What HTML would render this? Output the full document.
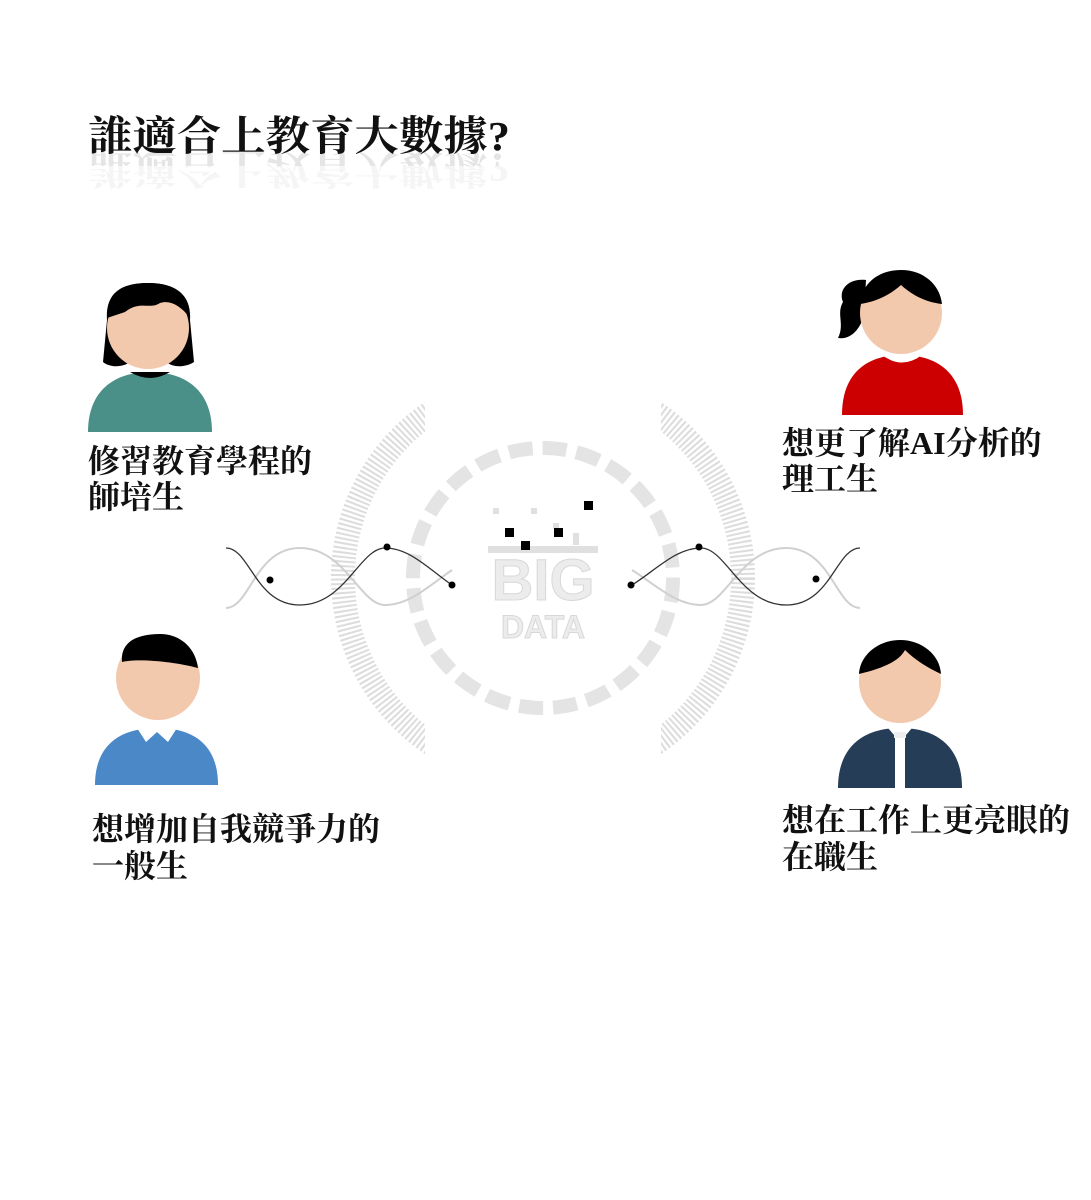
<!DOCTYPE html>
<html><head><meta charset="utf-8"><style>
html,body{margin:0;padding:0;background:#fff;}
svg{display:block;}
.t{font-family:"Liberation Serif","Noto Serif CJK SC",serif;font-weight:bold;fill:#111;}
</style></head><body>
<svg width="1091" height="1200" viewBox="0 0 1091 1200" xmlns="http://www.w3.org/2000/svg">
<!-- title -->
<text class="t" x="88" y="150" font-size="41" textLength="422" lengthAdjust="spacingAndGlyphs">誰適合上教育大數據?</text>
<g transform="translate(0,304) scale(1,-1)" opacity="0.1">
<text class="t" x="88" y="150" font-size="41" textLength="422" lengthAdjust="spacingAndGlyphs">誰適合上教育大數據?</text>
</g>
<rect x="85" y="166" width="430" height="25" fill="#fff" opacity="0.6"/>

<!-- big data graphic -->
<g transform="translate(543,578)">
  <circle r="200" fill="none" stroke="#dcdcdc" stroke-width="24" stroke-dasharray="2 2.5" />
  <rect x="-118" y="-215" width="236" height="430" fill="#fff"/>
  <circle r="130" fill="none" stroke="#e4e4e4" stroke-width="14" stroke-dasharray="24 10"/>
  <text x="0" y="22" text-anchor="middle" font-family="Liberation Sans,sans-serif" font-weight="bold" font-size="58" fill="#ececec" stroke="#d8d8d8" stroke-width="1">BIG</text>
  <text x="0" y="60" text-anchor="middle" font-family="Liberation Sans,sans-serif" font-weight="bold" font-size="32" fill="#ececec" stroke="#d8d8d8" stroke-width="1">DATA</text>
  <g fill="#e0e0e0">
    <rect x="-55" y="-32" width="110" height="7"/>
    <rect x="-50" y="-70" width="6" height="6"/><rect x="-12" y="-70" width="6" height="6"/><rect x="10" y="-55" width="6" height="6"/><rect x="30" y="-45" width="6" height="12"/>
  </g>
  <g fill="#000">
    <rect x="-38" y="-50" width="9" height="9"/><rect x="-22" y="-37" width="9" height="9"/>
    <rect x="11" y="-50" width="9" height="9"/><rect x="41" y="-77" width="9" height="9"/>
  </g>
</g>
<!-- waves -->
<g fill="none">
  <path d="M226,608 C250,608 255,548 300,548 C345,548 360,605 385,605 C410,605 430,585 452,570" stroke="#d0d0d0" stroke-width="2"/>
  <path d="M226,548 C250,548 255,605 300,605 C345,605 360,548 385,548 C410,548 430,570 452,585" stroke="#333" stroke-width="1.3"/>
  <path d="M860,608 C836,608 831,548 786,548 C741,548 726,605 701,605 C676,605 656,585 632,570" stroke="#d0d0d0" stroke-width="2"/>
  <path d="M860,548 C836,548 831,605 786,605 C741,605 726,548 701,548 C676,548 656,570 632,585" stroke="#333" stroke-width="1.3"/>
</g>
<g fill="#000">
  <circle cx="270" cy="580" r="3.5"/><circle cx="387" cy="547" r="3.5"/><circle cx="452" cy="585" r="3.5"/>
  <circle cx="631" cy="585" r="3.5"/><circle cx="699" cy="547" r="3.5"/><circle cx="816" cy="579" r="3.5"/>
</g>

<!-- person 1 (teal) -->
<path d="M88,432 C88,390 115,372 150,372 C185,372 212,390 212,432 Z" fill="#4a9088"/>
<path d="M130,372 Q150,384 170,372 Z" fill="#000"/>
<path d="M107,320 C105,290 125,283 148,283 C172,283 192,292 190,320 L194,362 C185,368 170,368 165,360 L132,360 C125,368 110,368 103,362 Z" fill="#000"/>
<circle cx="148" cy="328" r="41" fill="#f3c9ae"/>
<path d="M107,318 C108,292 125,283 148,283 C172,283 190,292 190,318 C180,305 170,300 160,303 C150,310 140,300 125,312 Z" fill="#000"/>

<!-- person 2 (red) -->
<path d="M842,415 C842,372 868,355 902,355 C936,355 963,372 963,415 Z" fill="#cc0000"/>
<path d="M882,355 Q902,370 922,355 Z" fill="#fff"/>
<path d="M866,280 C848,278 838,290 843,302 C836,314 845,324 838,338 C852,340 860,328 864,316 Z" fill="#000"/>
<circle cx="901" cy="313" r="41" fill="#f3c9ae"/>
<path d="M860,304 C862,282 880,270 901,270 C924,270 940,285 942,304 C925,302 912,295 901,285 C890,295 875,302 860,304 Z" fill="#000"/>

<!-- person 3 (blue) -->
<path d="M95,785 C95,745 120,728 157,728 C194,728 218,745 218,785 Z" fill="#4a88c8"/>
<path d="M137,728 L146,742 L157,732 L168,742 L177,728 Z" fill="#fff"/>
<circle cx="158" cy="678" r="42" fill="#f3c9ae"/>
<path d="M122,662 C120,640 140,634 160,634 C182,634 196,650 198,668 C175,662 140,658 122,662 Z" fill="#000"/>

<!-- person 4 (navy) -->
<path d="M838,788 C838,746 864,728 900,728 C936,728 962,746 962,788 Z" fill="#253d57"/>
<path d="M888,728 L900,742 L912,728 Z" fill="#fff"/>
<rect x="895" y="734" width="10" height="54" fill="#fff"/>
<rect x="894" y="732" width="12" height="6" fill="#eee"/>
<circle cx="900" cy="682" r="41" fill="#f3c9ae"/>
<path d="M859,674 C860,655 878,640 900,640 C922,640 940,655 941,674 C928,668 915,660 905,650 C900,660 885,668 859,674 Z" fill="#000"/>

<!-- labels -->
<g class="t" font-size="32">
<text x="88" y="472">修習教育學程的</text>
<text x="88" y="508">師培生</text>
<text x="782" y="454">想更了解AI分析的</text>
<text x="782" y="490">理工生</text>
<text x="92" y="840">想增加自我競爭力的</text>
<text x="92" y="877">一般生</text>
<text x="782" y="831">想在工作上更亮眼的</text>
<text x="782" y="868">在職生</text>
</g>
</svg>
</body></html>
